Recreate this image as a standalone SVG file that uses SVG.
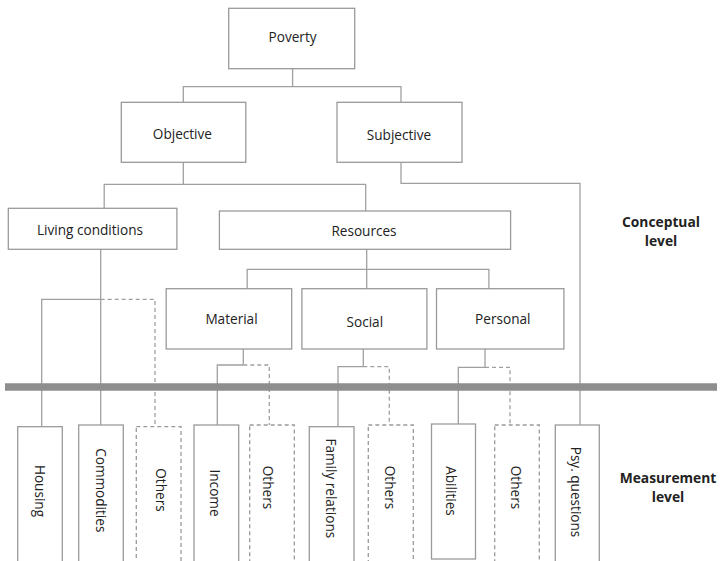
<svg xmlns="http://www.w3.org/2000/svg" width="722" height="561" viewBox="0 0 722 561">
<style>
.box{fill:#fff;stroke:#9a9a9a;stroke-width:1.3}
.dbox{fill:#fff;stroke:#9a9a9a;stroke-width:1.3;stroke-dasharray:4,3}
.ln{fill:none;stroke:#a0a0a0;stroke-width:1.3}
.dl{fill:none;stroke:#a0a0a0;stroke-width:1.3;stroke-dasharray:4,3}
.t{font-family:"Open Sans","Noto Sans",sans-serif;font-size:13.6px;fill:#222;text-anchor:middle;dominant-baseline:central}
.b{font-family:"Open Sans","Noto Sans",sans-serif;font-size:13.8px;font-weight:bold;fill:#222;text-anchor:middle}
</style>
<rect width="722" height="561" fill="#fff"/>
<g id="connectors">
<path class="ln" d="M292.6,68.7V86.7M183.3,102.3V86.7H401V102.3"/>
<path class="ln" d="M183.3,162.3V184.3M104.2,208.3V184.3H365.7V211"/>
<path class="ln" d="M401,162.3V183.3H580V425"/>
<path class="ln" d="M366.7,249.3V269.3M247.2,288.7V269.3H488.9V288.7M366.7,269.3V288.7"/>
<path class="ln" d="M100.7,249.3V425M41.7,426.7V299.3H100.7"/>
<path class="dl" d="M100.7,299.3H155V426.7"/>
<path class="ln" d="M243.3,349V365M217.3,425V365H243.3"/>
<path class="dl" d="M243.3,365H269.3V425"/>
<path class="ln" d="M363.3,349V366.7M338,426.7V366.7H363.3"/>
<path class="dl" d="M363.3,366.7H389.3V425"/>
<path class="ln" d="M485,349V367.3M458.3,424V367.3H485"/>
<path class="dl" d="M485,367.3H510V425"/>
<line x1="5" y1="387" x2="717" y2="387" stroke="#8e8e8e" stroke-width="7.4"/>
</g>
<g id="poverty"><rect class="box" x="228.7" y="8.3" width="126" height="60.4"/><text class="t" x="292.6" y="36">Poverty</text></g>
<g id="objective"><rect class="box" x="121.3" y="102.3" width="124.5" height="60"/><text class="t" x="182.4" y="133.3">Objective</text></g>
<g id="subjective"><rect class="box" x="337" y="102.3" width="125" height="60"/><text class="t" x="399" y="134.3">Subjective</text></g>
<g id="living"><rect class="box" x="8.3" y="208.3" width="168.6" height="41"/><text class="t" x="90" y="229">Living conditions</text></g>
<g id="resources"><rect class="box" x="219.4" y="211" width="291.2" height="38.3"/><text class="t" x="364" y="230.7">Resources</text></g>
<g id="material"><rect class="box" x="166.2" y="288.7" width="125.5" height="60.3"/><text class="t" x="231.5" y="318.3">Material</text></g>
<g id="social"><rect class="box" x="301.9" y="288.7" width="125" height="60.3"/><text class="t" x="364.8" y="321">Social</text></g>
<g id="personal"><rect class="box" x="436.5" y="288.7" width="127.4" height="60.3"/><text class="t" x="502.8" y="318.3">Personal</text></g>
<g id="conceptual"><text class="b" x="661" y="226.5">Conceptual</text><text class="b" x="661" y="245.5">level</text></g>
<g id="measurement"><text class="b" x="668" y="482.5">Measurement</text><text class="b" x="668" y="502">level</text></g>
<g id="housing"><rect class="box" x="17.7" y="426.7" width="44.6" height="140"/><text class="t" transform="translate(40,491) rotate(90)">Housing</text></g>
<g id="commodities"><rect class="box" x="78.7" y="425" width="44.6" height="140"/><text class="t" transform="translate(101,490.3) rotate(90)">Commodities</text></g>
<g id="others1"><rect class="dbox" x="136.3" y="426.7" width="44.7" height="140"/><text class="t" transform="translate(161,490) rotate(90)">Others</text></g>
<g id="income"><rect class="box" x="194" y="425" width="44.7" height="140"/><text class="t" transform="translate(215,493) rotate(90)">Income</text></g>
<g id="others2"><rect class="dbox" x="249.7" y="425" width="44.6" height="140"/><text class="t" transform="translate(268.3,487.5) rotate(90)">Others</text></g>
<g id="family"><rect class="box" x="309.3" y="426.7" width="44.7" height="140"/><text class="t" transform="translate(331.7,488.3) rotate(90)">Family relations</text></g>
<g id="others3"><rect class="dbox" x="368.3" y="425" width="45" height="140"/><text class="t" transform="translate(390,487.5) rotate(90)">Others</text></g>
<g id="abilities"><rect class="box" x="431.5" y="424" width="44" height="135"/><text class="t" transform="translate(451,491) rotate(90)">Abilities</text></g>
<g id="others4"><rect class="dbox" x="494.7" y="425" width="44.6" height="140"/><text class="t" transform="translate(516.7,487.5) rotate(90)">Others</text></g>
<g id="psy"><rect class="box" x="555.3" y="425" width="44" height="140"/><text class="t" transform="translate(576.7,492) rotate(90)">Psy. questions</text></g>
</svg>
